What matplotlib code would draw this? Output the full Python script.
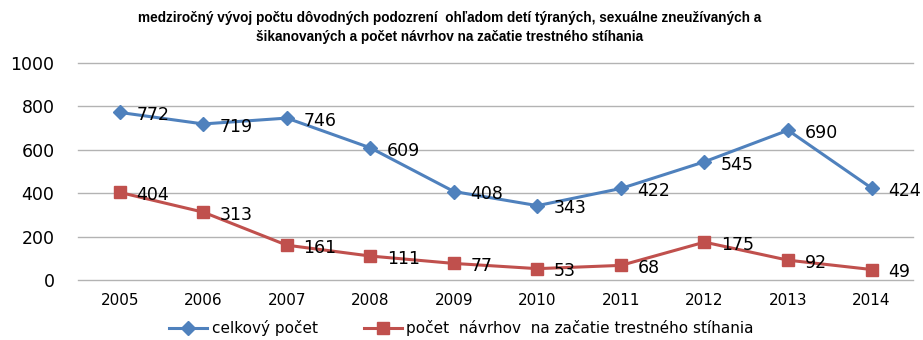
import matplotlib.pyplot as plt

roky = ['2005', '2006', '2007', '2008', '2009', '2010', '2011', '2012', '2013', '2014']
celkovy = [772, 719, 746, 609, 408, 343, 422, 545, 690, 424]
navrhy = [404, 313, 161, 111, 77, 53, 68, 175, 92, 49]

modra = '#4F81BD'
cervena = '#C0504D'

fig = plt.figure(figsize=(9.23, 3.40), dpi=100)
ax = fig.add_axes([0.0845, 0.176, 0.905, 0.639])

x = list(range(len(roky)))
ax.plot(x, celkovy, color=modra, lw=2.2, marker='D', ms=7, label='celkový počet')
ax.plot(x, navrhy, color=cervena, lw=2.2, marker='s', ms=8.5,
        label='počet  návrhov  na začatie trestného stíhania')

# popisky hodnot vpravo od bodov
for xi, v in zip(x, celkovy):
    ax.annotate(str(v), (xi, v), xytext=(12, -2), textcoords='offset points',
                ha='left', va='center', fontsize=12.5, color='black')
for xi, v in zip(x, navrhy):
    ax.annotate(str(v), (xi, v), xytext=(12, -2), textcoords='offset points',
                ha='left', va='center', fontsize=12.5, color='black')

ax.set_xlim(-0.5, len(roky) - 0.5)
ax.set_ylim(0, 1000)
ax.set_yticks(range(0, 1001, 200))
ax.set_xticks(x)
ax.set_xticklabels(roky)
ax.tick_params(axis='y', length=0, pad=17, labelsize=12.5)
ax.tick_params(axis='x', length=0, pad=9, labelsize=11)
ax.grid(axis='y', color='#b3b3b3', lw=1)
for g in ax.get_ygridlines():
    g.set_clip_on(False)
ax.set_axisbelow(True)
for s in ax.spines.values():
    s.set_visible(False)

fig.text(0.487, 0.918,
         'medziročný vývoj počtu dôvodných podozrení  ohľadom detí týraných, sexuálne zneužívaných a\n'
         'šikanovaných a počet návrhov na začatie trestného stíhania',
         ha='center', va='center', fontsize=9.8, fontweight='bold',
         family=['Liberation Sans', 'DejaVu Sans'], linespacing=1.45)

fig.legend(loc='center', bbox_to_anchor=(0.5, 0.035), ncol=2, frameon=False,
           fontsize=11, handlelength=2.5, columnspacing=3, handletextpad=0.3)

fig.savefig('out.png', dpi=100)
